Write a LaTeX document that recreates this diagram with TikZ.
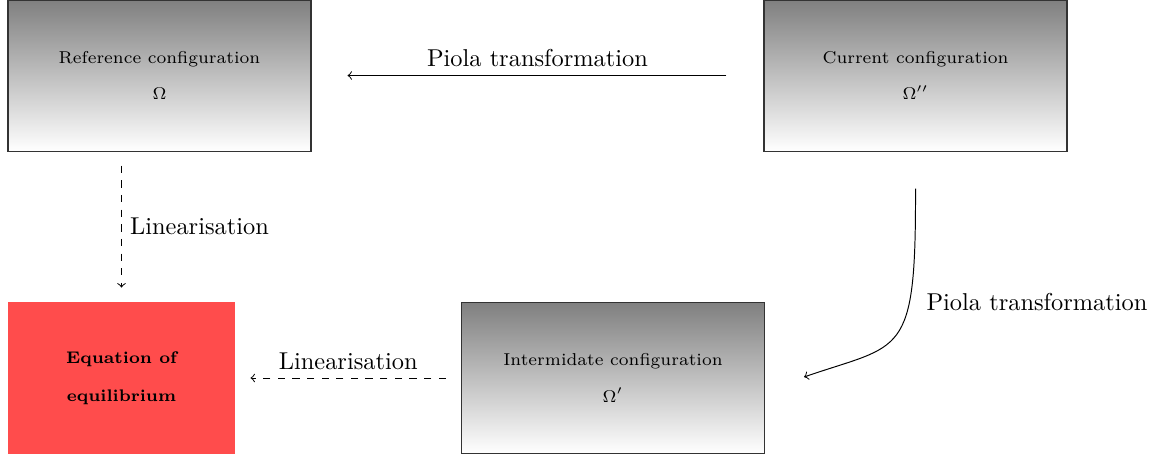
\documentclass[tikz,border=0pt]{standalone}
\usetikzlibrary{calc}
\begin{document}
\begin{tikzpicture}[x=0.41pt,y=-0.41pt,
  cfgbox/.style={draw=black!80, line width=0.5pt, top color=black!50, bottom color=white,
    minimum width=124.2pt, minimum height=62pt, inner sep=0pt, align=center, font=\fontsize{7.05pt}{9pt}\selectfont},
  eqbox/.style={fill=red!70, minimum width=93.1pt, minimum height=62.3pt, inner sep=0pt,
    align=center, font=\fontsize{6.9pt}{9pt}\selectfont\bfseries},
  conn/.style={->, line width=0.4pt},
  dconn/.style={->, dashed, line width=0.4pt}]
\useasboundingbox (0,0) rectangle (1158,459);
\node[cfgbox] (ref) at (159.5,75.5) {Reference configuration\\[6pt]$\Omega$};
\node[cfgbox] (cur) at (915.5,75.5) {Current configuration\\[6pt]$\Omega''$};
\node[cfgbox] (int) at (613,378) {Intermidate configuration\\[6pt]$\Omega'$};
\node[eqbox] (eq) at (121.5,378) {Equation of\\[6.5pt]equilibrium};
\draw[conn, shorten <=37*0.41pt, shorten >=36*0.41pt] (cur.west) -- node[above] (l1) {Piola transformation} (ref.east);
\draw[dconn, shorten <=14*0.41pt, shorten >=14*0.41pt] (eq.north |- ref.south) -- node[right] (l2) {Linearisation} (eq.north);
\draw[dconn, shorten <=15*0.41pt, shorten >=15*0.41pt] (int.west) -- node[above] (l3) {Linearisation} (eq.east);
\coordinate (cs) at ($(cur.south)+(0,37)$);
\coordinate (ie) at ($(int.east)+(39,-1)$);
\draw[conn] (cs) .. controls (916,360) and (902,343) .. (ie);
\node (l4) at (1037,302) {Piola transformation};
\end{tikzpicture}
\end{document}
